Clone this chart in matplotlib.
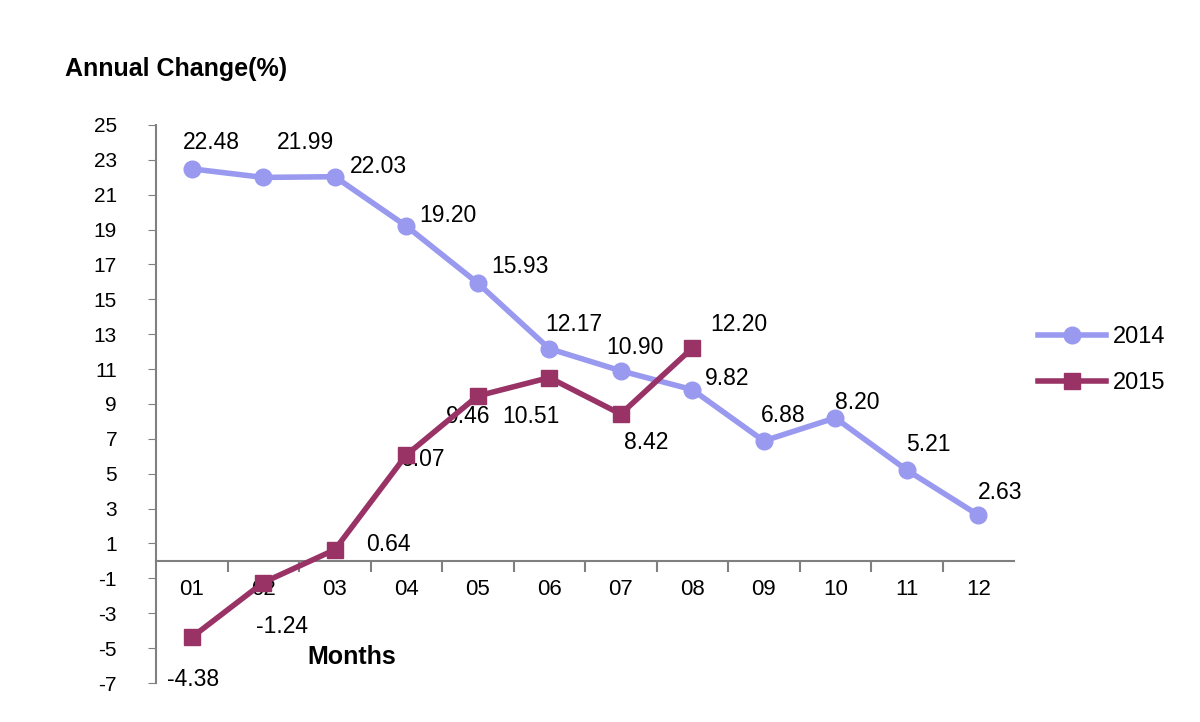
import matplotlib.pyplot as plt

# data
months = ['01', '02', '03', '04', '05', '06', '07', '08', '09', '10', '11', '12']
change_2014 = [22.48, 21.99, 22.03, 19.20, 15.93, 12.17, 10.90, 9.82, 6.88, 8.20, 5.21, 2.63]
change_2015 = [-4.38, -1.24, 0.64, 6.07, 9.46, 10.51, 8.42, 12.20]

# label offsets in pixels (dx, dy) relative to each point
offs_2014 = [(20, 26), (42, 35), (44, 10), (42, 11), (42, 17), (25, 24), (14, 23), (35, 11), (19, 25), (22, 15), (22, 26), (22, 23)]
offs_2015 = [(1, -42), (19, -44), (54, 5), (17, -4), (-10, -21), (-18, -39), (25, -28), (47, 24)]

c14 = '#9999f0'
c15 = '#993366'

plt.rcParams['font.family'] = ['Liberation Sans', 'DejaVu Sans']
plt.rcParams['axes.unicode_minus'] = False

fig = plt.figure(figsize=(12, 7.22), dpi=100)
ax = fig.add_axes([0.13, 0.054, 0.715, 0.773])

x14 = list(range(len(change_2014)))
x15 = list(range(len(change_2015)))

ax.plot(x14, change_2014, color=c14, lw=4, marker='o', ms=12, label='2014', zorder=3)
ax.plot(x15, change_2015, color=c15, lw=4, marker='s', ms=11, label='2015', zorder=4)

for i, v in enumerate(change_2014):
    ax.annotate(f'{v:.2f}', (i, v), xytext=offs_2014[i], textcoords='offset pixels',
                ha='center', va='center', fontsize=16.5)
for i, v in enumerate(change_2015):
    ax.annotate(f'{v:.2f}', (i, v), xytext=offs_2015[i], textcoords='offset pixels',
                ha='center', va='center', fontsize=16.5)

ax.set_xlim(-0.5, 11.5)
ax.set_ylim(-7, 25)
ax.set_yticks(range(-7, 26, 2))
ax.tick_params(axis='y', labelsize=15, length=6, color='#808080', pad=42 - 6 - 14)

# x axis sits at zero, ticks between categories
ax.spines['bottom'].set_position(('data', 0))
ax.spines['top'].set_visible(False)
ax.spines['right'].set_visible(False)
ax.spines['left'].set_color('#808080')
ax.spines['bottom'].set_color('#808080')
ax.spines['left'].set_linewidth(1.5)
ax.spines['bottom'].set_linewidth(1.5)
ax.set_xticks([i + 0.5 for i in range(11)])
ax.set_xticklabels([])
ax.tick_params(axis='x', length=8, color='#808080', width=1.5)
for i, m in enumerate(months):
    ax.annotate(m, (i, 0), xytext=(0, -29), textcoords='offset pixels',
                ha='center', va='center', fontsize=16)

fig.text(0.054, 0.905, 'Annual Change(%)', fontsize=18, fontweight='bold', ha='left', va='center')
fig.text(0.293, 0.09, 'Months', fontsize=18, fontweight='bold', ha='center', va='center')

ax.legend(loc='center left', bbox_to_anchor=(0.847, 0.501), bbox_transform=fig.transFigure,
          frameon=False, fontsize=17, handlelength=2.9, labelspacing=1.0, handletextpad=0.3)

fig.savefig('out.png', dpi=100)
